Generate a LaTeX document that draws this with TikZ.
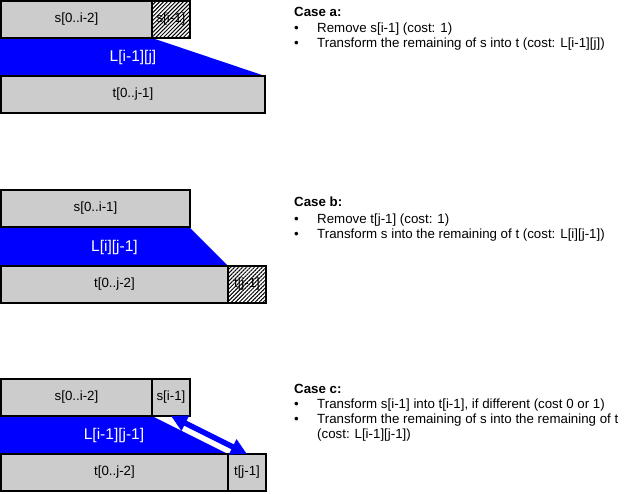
\documentclass[tikz,border=0pt]{standalone}
\usepackage{fontspec}
\setmainfont{Liberation Sans}
\usetikzlibrary{patterns.meta,arrows.meta}
\definecolor{boxgray}{RGB}{204,204,204}
\definecolor{pureblue}{RGB}{0,0,255}
\begin{document}
\begin{tikzpicture}[x=1pt,y=-1pt,
  box/.style={draw=black, line width=1.4pt, fill=boxgray, inner sep=0pt, outer sep=0pt,
              minimum height=37pt, anchor=north west, font=\fontsize{13.3}{15}\selectfont},
  hatchbox/.style={box, fill=none, pattern={Lines[angle=45, distance=2.8pt, line width=1pt]}},
  band/.style={fill=pureblue, draw=none},
  bandlabel/.style={text=white, inner sep=0pt, font=\fontsize{15.5}{18}\selectfont},
  casehead/.style={anchor=base west, inner sep=0pt, font=\bfseries\fontsize{13.3}{15}\selectfont},
  txt/.style={anchor=base west, inner sep=0pt, font=\fontsize{13.3}{15}\selectfont},
  bul/.style={txt},
  swap/.style={pureblue, line width=5.5pt, {Triangle[length=16pt,width=16pt]}-{Triangle[length=16pt,width=16pt]}}
]
\useasboundingbox (0,0) rectangle (644,494);
\fill[white] (0,0) rectangle (644,494);

% ---------- Case a ----------
\fill[band] (0,38) -- (152,38) -- (265,76) -- (0,76) -- cycle;
\node[box, minimum width=151pt] (as) at (1,1) {s[0..i-2]};
\node[hatchbox, minimum width=38pt] (asi) at (152,1) {s[i-1]};
\node[box, minimum width=264pt] (at) at (1,76) {t[0..j-1]};
\node[bandlabel] (aL) at (133,57) {L[i-1][j]};

% ---------- Case b ----------
\fill[band] (0,228) -- (190,228) -- (228,266) -- (0,266) -- cycle;
\node[box, minimum width=189pt] (bs) at (1,190) {s[0..i-1]};
\node[box, minimum width=227pt] (bt) at (1,266) {t[0..j-2]};
\node[hatchbox, minimum width=38pt] (btj) at (228,266) {t[j-1]};
\node[bandlabel] (bL) at (114.5,247) {L[i][j-1]};

% ---------- Case c ----------
\fill[band] (0,416) -- (152,416) -- (228,454) -- (0,454) -- cycle;
\node[box, minimum width=151pt] (cs) at (1,379) {s[0..i-2]};
\node[box, minimum width=38pt] (csi) at (152,379) {s[i-1]};
\node[box, minimum width=227pt] (ct) at (1,454) {t[0..j-2]};
\node[box, minimum width=38pt] (ctj) at (228,454) {t[j-1]};
\node[bandlabel] (cL) at (114,435) {L[i-1][j-1]};
\draw[swap] (csi.south) -- (ctj.north);

% ---------- Texts ----------
\node[casehead] (ha) at (294,17) {Case a:};
\node[bul] (ba1) at (294,33) {•};
\node[txt] (ta1) at (317,33) {Remove s[i-1] (cost: 1)};
\node[bul] (ba2) at (294,48) {•};
\node[txt] (ta2) at (317,48) {Transform the remaining of s into t (cost: L[i-1][j])};

\node[casehead] (hb) at (294,207) {Case b:};
\node[bul] (bb1) at (294,223) {•};
\node[txt] (tb1) at (317,223) {Remove t[j-1] (cost: 1)};
\node[bul] (bb2) at (294,238) {•};
\node[txt] (tb2) at (317,238) {Transform s into the remaining of t (cost: L[i][j-1])};

\node[casehead] (hc) at (294,393) {Case c:};
\node[bul] (bc1) at (294,408) {•};
\node[txt] (tc1) at (317,408) {Transform s[i-1] into t[i-1], if different (cost 0 or 1)};
\node[bul] (bc2) at (294,423) {•};
\node[txt] (tc2) at (317,423) {Transform the remaining of s into the remaining of t};
\node[txt] (tc3) at (317,438) {(cost: L[i-1][j-1])};
\end{tikzpicture}
\end{document}
